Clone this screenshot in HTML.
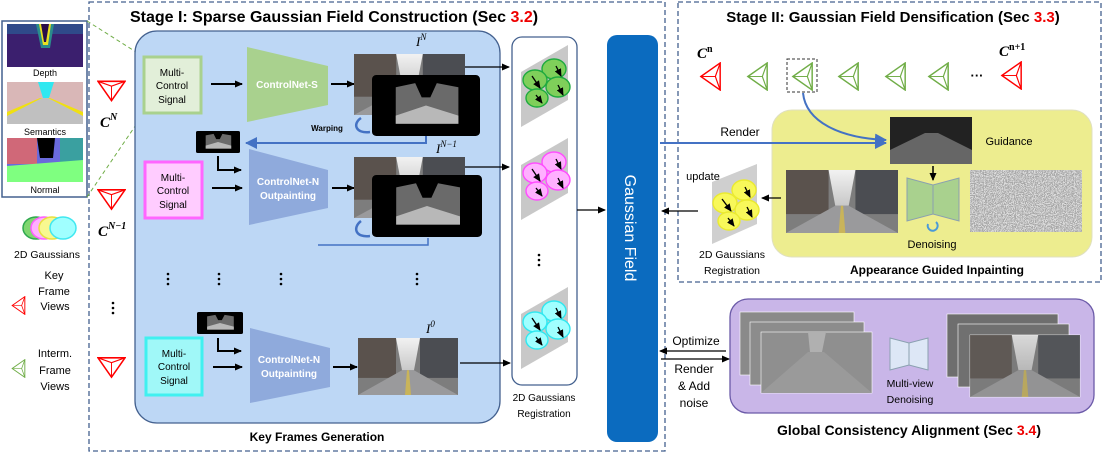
<!DOCTYPE html>
<html><head><meta charset="utf-8"><style>
html,body{margin:0;padding:0;background:#fff;}
svg{display:block;font-family:"Liberation Sans",sans-serif;}
.b{font-weight:bold;}
</style></head><body>
<svg width="1104" height="453" viewBox="0 0 1104 453" xmlns="http://www.w3.org/2000/svg">
<defs>
<marker id="ar" markerWidth="8" markerHeight="8" refX="7" refY="4" orient="auto" markerUnits="userSpaceOnUse"><path d="M0,0.5 L8,4 L0,7.5 Z" fill="#000"/></marker>
<marker id="arb" markerWidth="12" markerHeight="12" refX="11" refY="6" orient="auto" markerUnits="userSpaceOnUse"><path d="M0,0 L12,6 L0,12 Z" fill="#4472c4"/></marker>
<linearGradient id="sky" x1="0" y1="0" x2="0" y2="1"><stop offset="0" stop-color="#f2f2f2"/><stop offset="1" stop-color="#c8c8c8"/></linearGradient>
<symbol id="street" viewBox="0 0 100 60" preserveAspectRatio="none">
<rect width="100" height="60" fill="#7d7d7d"/>
<rect x="0" y="0" width="38" height="42" fill="#5a524d"/>
<rect x="62" y="0" width="38" height="42" fill="#4b4d52"/>
<polygon points="38,0 62,0 56,34 44,34" fill="url(#sky)"/>
<polygon points="0,60 44,34 56,34 100,60" fill="#9a9a9c"/>
<polygon points="49,34 51,34 53,60 47,60" fill="#c9b45a"/>
</symbol>
<symbol id="darkimg" viewBox="0 0 100 60" preserveAspectRatio="none">
<rect width="100" height="60" rx="4" fill="#000"/>
<polygon points="22,12 40,8 46,22 54,22 60,8 80,12 80,48 22,48" fill="#6a6a6a"/>
<polygon points="22,40 50,30 80,40 80,48 22,48" fill="#b8b8b8"/>
</symbol>
<filter id="noise" x="0" y="0" width="100%" height="100%"><feTurbulence type="fractalNoise" baseFrequency="0.9" numOctaves="2" seed="3"/><feColorMatrix type="matrix" values="0.33 0.33 0.33 0 0  0.33 0.33 0.33 0 0  0.33 0.33 0.33 0 0  0 0 0 0 1"/><feComponentTransfer><feFuncR type="discrete" tableValues="0.1 0.4 0.7 0.95"/><feFuncG type="discrete" tableValues="0.1 0.4 0.7 0.95"/><feFuncB type="discrete" tableValues="0.1 0.4 0.7 0.95"/></feComponentTransfer></filter>
<symbol id="cam" viewBox="0 0 24 30"><polygon points="22,1 2,15 22,29" fill="none" stroke="currentColor" stroke-width="1.5"/><polyline points="22,1 17,15 22,29" fill="none" stroke="currentColor" stroke-width="1.2"/><line x1="2" y1="15" x2="17" y2="15" stroke="currentColor" stroke-width="1"/></symbol>
<symbol id="camd" viewBox="0 0 30 24"><polygon points="1,2 29,2 15,22" fill="none" stroke="#f00" stroke-width="1.6"/><polyline points="1,2 15,7 29,2" fill="none" stroke="#f00" stroke-width="1.2"/><line x1="15" y1="7" x2="15" y2="22" stroke="#f00" stroke-width="1"/></symbol>
</defs>

<rect x="89" y="2" width="576" height="449" fill="none" stroke="#44618f" stroke-width="1.3" stroke-dasharray="5,3"/>
<rect x="678" y="2" width="423" height="280" fill="none" stroke="#44618f" stroke-width="1.3" stroke-dasharray="5,3"/>

<text x="334" y="22" text-anchor="middle" class="b" font-size="16">Stage I: Sparse Gaussian Field Construction (Sec <tspan fill="#e00">3.2</tspan>)</text>
<text x="893" y="22" text-anchor="middle" class="b" font-size="15">Stage II: Gaussian Field Densification  (Sec <tspan fill="#e00">3.3</tspan>)</text>

<rect x="2" y="21" width="85" height="176" fill="#fff" stroke="#44618f" stroke-width="1.5"/>
<rect x="7" y="24" width="76" height="43" fill="#3b1f6e"/>
<rect x="7" y="24" width="76" height="10" fill="#2f4a8a"/>
<polygon points="36,24 54,24 50,48 41,48" fill="#2a8c8c"/>
<polygon points="39,24 51,24 48,45 43,45" fill="#e8e020"/>
<polygon points="41,24 49,24 46,42 44,42" fill="#2a0d4a"/>
<text x="45" y="76" text-anchor="middle" font-size="9">Depth</text>
<rect x="7" y="82" width="76" height="42" fill="#d9b7b7"/>
<polygon points="7,112 40,98 50,98 83,112 83,124 7,124" fill="#f0e010"/>
<polygon points="7,116 42,98 48,98 83,116 83,124 7,124" fill="#c0c0c0"/>
<polygon points="38,82 54,82 49,98 43,98" fill="#30e8f0"/>
<text x="45" y="135" text-anchor="middle" font-size="9">Semantics</text>
<rect x="7" y="138" width="76" height="44" fill="#6a6adc"/>
<rect x="7" y="138" width="30" height="26" fill="#d06878"/>
<rect x="60" y="138" width="23" height="28" fill="#3aa0a0"/>
<polygon points="37,138 55,138 53,158 40,158" fill="#000"/>
<polygon points="7,166 83,160 83,182 7,182" fill="#7fff80"/>
<text x="45" y="193" text-anchor="middle" font-size="9">Normal</text>
<line x1="87" y1="21" x2="144" y2="57" stroke="#70ad47" stroke-width="1" stroke-dasharray="4,3"/>
<line x1="87" y1="197" x2="144" y2="113" stroke="#70ad47" stroke-width="1" stroke-dasharray="4,3"/>

<ellipse cx="36" cy="228" rx="13" ry="11" fill="#7fd66f" stroke="#2fa84f" stroke-width="1.5"/>
<ellipse cx="44" cy="228" rx="13" ry="11" fill="#ffb0ff" stroke="#ff5cff" stroke-width="1.5"/>
<ellipse cx="52" cy="228" rx="13" ry="11" fill="#f8f890" stroke="#e8e040" stroke-width="1.5"/>
<ellipse cx="63" cy="228" rx="13" ry="11" fill="#a0ffff" stroke="#40e8f0" stroke-width="1.5"/>
<text x="47" y="258" text-anchor="middle" font-size="10.5">2D Gaussians</text>
<text x="54" y="279" text-anchor="middle" font-size="11">Key</text>
<text x="54" y="295" text-anchor="middle" font-size="11">Frame</text>
<text x="55" y="310" text-anchor="middle" font-size="11">Views</text>
<use href="#cam" x="10" y="296" width="17" height="19" color="#f00"/>
<text x="55" y="357" text-anchor="middle" font-size="11">Interm.</text>
<text x="55" y="374" text-anchor="middle" font-size="11">Frame</text>
<text x="55" y="390" text-anchor="middle" font-size="11">Views</text>
<use href="#cam" x="10" y="359" width="17" height="19" color="#70ad47"/>

<use href="#camd" x="97" y="79" width="29" height="24"/>
<use href="#camd" x="97" y="187" width="29" height="25"/>
<use href="#camd" x="97" y="355" width="29" height="25"/>
<text x="100" y="127" font-family="Liberation Serif" font-style="italic" class="b" font-size="15">C<tspan font-size="10" dy="-7">N</tspan></text>
<text x="98" y="236" font-family="Liberation Serif" font-style="italic" class="b" font-size="15">C<tspan font-size="10" dy="-7">N−1</tspan></text>
<g fill="#000"><circle cx="113" cy="303" r="1.3"/><circle cx="113" cy="308" r="1.3"/><circle cx="113" cy="313" r="1.3"/></g>

<rect x="135" y="31" width="365" height="392" rx="22" fill="#bdd7f5" stroke="#44618f" stroke-width="1.3"/>
<text x="317" y="441" text-anchor="middle" class="b" font-size="12">Key Frames Generation</text>

<rect x="144" y="57" width="57" height="56" fill="#e2efd9" stroke="#a9d18e" stroke-width="3"/>
<text font-size="10" text-anchor="middle"><tspan x="172" y="76">Multi-</tspan><tspan x="172" y="89">Control</tspan><tspan x="172" y="103">Signal</tspan></text>
<line x1="211" y1="84" x2="242" y2="84" stroke="#000" stroke-width="2" marker-end="url(#ar)"/>
<polygon points="247,47 328,66 328,105 247,122" fill="#a9d18e"/>
<text x="287" y="88" text-anchor="middle" class="b" font-size="10" fill="#fff">ControlNet-S</text>
<line x1="331" y1="84" x2="354" y2="84" stroke="#000" stroke-width="2" marker-end="url(#ar)"/>
<use href="#street" x="354" y="54" width="111" height="61"/>
<use href="#darkimg" x="372" y="75" width="108" height="61"/>
<text x="416" y="46" font-family="Liberation Serif" font-style="italic" font-size="13">I<tspan font-size="9" dy="-6">N</tspan></text>
<text x="327" y="131" text-anchor="middle" class="b" font-size="8">Warping</text>
<path d="M361,118 C352,124 356,134 370,132" fill="none" stroke="#4472c4" stroke-width="2.5"/>
<polyline points="426,136 426,143 246,143" fill="none" stroke="#4472c4" stroke-width="2" marker-end="url(#arb)"/>
<use href="#darkimg" x="196" y="131" width="44" height="22"/>

<rect x="145" y="162" width="57" height="56" fill="#ffccff" stroke="#ff66ff" stroke-width="3"/>
<text font-size="10" text-anchor="middle"><tspan x="173" y="181">Multi-</tspan><tspan x="173" y="194">Control</tspan><tspan x="173" y="208">Signal</tspan></text>
<polyline points="218,156 218,170 241,170" fill="none" stroke="#000" stroke-width="2" marker-end="url(#ar)"/>
<line x1="212" y1="188" x2="242" y2="188" stroke="#000" stroke-width="2" marker-end="url(#ar)"/>
<polygon points="249,149 328,170 328,208 249,225" fill="#8faadc"/>
<text x="288" y="185" text-anchor="middle" class="b" font-size="10" fill="#fff">ControlNet-N</text>
<text x="288" y="199" text-anchor="middle" class="b" font-size="10" fill="#fff">Outpainting</text>
<line x1="332" y1="188" x2="354" y2="188" stroke="#000" stroke-width="2" marker-end="url(#ar)"/>
<use href="#street" x="354" y="157" width="111" height="61"/>
<use href="#darkimg" x="372" y="175" width="110" height="62"/>
<text x="436" y="153" font-family="Liberation Serif" font-style="italic" font-size="13">I<tspan font-size="9" dy="-6">N−1</tspan></text>
<path d="M361,221 C352,228 356,238 370,236" fill="none" stroke="#4472c4" stroke-width="2.5"/>
<polyline points="428,238 428,245 318,245" fill="none" stroke="#4472c4" stroke-width="1.5"/>

<g fill="#000">
<circle cx="168" cy="274" r="1.3"/><circle cx="168" cy="279" r="1.3"/><circle cx="168" cy="284" r="1.3"/>
<circle cx="219" cy="274" r="1.3"/><circle cx="219" cy="279" r="1.3"/><circle cx="219" cy="284" r="1.3"/>
<circle cx="281" cy="274" r="1.3"/><circle cx="281" cy="279" r="1.3"/><circle cx="281" cy="284" r="1.3"/>
<circle cx="417" cy="274" r="1.3"/><circle cx="417" cy="279" r="1.3"/><circle cx="417" cy="284" r="1.3"/>
</g>

<use href="#darkimg" x="197" y="312" width="46" height="22"/>
<rect x="146" y="338" width="56" height="57" fill="#a0f8f8" stroke="#40f0f0" stroke-width="3"/>
<text font-size="10" text-anchor="middle"><tspan x="174" y="357">Multi-</tspan><tspan x="174" y="370">Control</tspan><tspan x="174" y="384">Signal</tspan></text>
<polyline points="218,338 218,351 241,351" fill="none" stroke="#000" stroke-width="2" marker-end="url(#ar)"/>
<line x1="213" y1="367" x2="242" y2="367" stroke="#000" stroke-width="2" marker-end="url(#ar)"/>
<polygon points="250,328 330,348 330,387 250,403" fill="#8faadc"/>
<text x="289" y="363" text-anchor="middle" class="b" font-size="10" fill="#fff">ControlNet-N</text>
<text x="289" y="377" text-anchor="middle" class="b" font-size="10" fill="#fff">Outpainting</text>
<line x1="333" y1="367" x2="357" y2="367" stroke="#000" stroke-width="2" marker-end="url(#ar)"/>
<use href="#street" x="358" y="338" width="100" height="57"/>
<text x="426" y="333" font-family="Liberation Serif" font-style="italic" font-size="13">I<tspan font-size="9" dy="-6">0</tspan></text>

<line x1="465" y1="67" x2="509" y2="67" stroke="#000" stroke-width="1.2" marker-end="url(#ar)"/>
<line x1="465" y1="167" x2="509" y2="167" stroke="#000" stroke-width="1.2" marker-end="url(#ar)"/>
<line x1="460" y1="363" x2="510" y2="363" stroke="#000" stroke-width="1.2" marker-end="url(#ar)"/>

<rect x="512" y="37" width="65" height="348" rx="10" fill="#fff" stroke="#44618f" stroke-width="1.3"/>
<text x="544" y="401" text-anchor="middle" font-size="10">2D Gaussians</text>
<text x="544" y="417" text-anchor="middle" font-size="10">Registration</text>
<polygon points="521,72 568,45 568,100 521,127" fill="#c8c8c8"/>
<g fill="#7fcf5a" stroke="#1faa3f" stroke-width="1.4"><ellipse cx="554" cy="69" rx="12" ry="10"/><ellipse cx="535" cy="80" rx="12" ry="10"/><ellipse cx="558" cy="87" rx="12" ry="10"/><ellipse cx="537" cy="98" rx="11" ry="9"/></g>
<g stroke="#000" stroke-width="1.3" marker-end="url(#ar)"><line x1="532" y1="76" x2="540" y2="88"/><line x1="556" y1="66" x2="561" y2="76"/><line x1="558" y1="85" x2="563" y2="95"/><line x1="536" y1="95" x2="542" y2="103"/></g>
<polygon points="521,165 568,138 568,193 521,220" fill="#c8c8c8"/>
<g fill="#ffb0ff" stroke="#ff4cff" stroke-width="1.4"><ellipse cx="554" cy="162" rx="12" ry="10"/><ellipse cx="535" cy="173" rx="12" ry="10"/><ellipse cx="558" cy="180" rx="12" ry="10"/><ellipse cx="537" cy="191" rx="11" ry="9"/></g>
<g stroke="#000" stroke-width="1.3" marker-end="url(#ar)"><line x1="532" y1="169" x2="540" y2="181"/><line x1="556" y1="159" x2="561" y2="169"/><line x1="558" y1="178" x2="563" y2="188"/><line x1="536" y1="188" x2="542" y2="196"/></g>
<g fill="#000"><circle cx="539" cy="255" r="1.3"/><circle cx="539" cy="260" r="1.3"/><circle cx="539" cy="265" r="1.3"/></g>
<polygon points="521,314 568,287 568,342 521,369" fill="#c8c8c8"/>
<g fill="#a0ffff" stroke="#30e8f0" stroke-width="1.4"><ellipse cx="554" cy="311" rx="12" ry="10"/><ellipse cx="535" cy="322" rx="12" ry="10"/><ellipse cx="558" cy="329" rx="12" ry="10"/><ellipse cx="537" cy="340" rx="11" ry="9"/></g>
<g stroke="#000" stroke-width="1.3" marker-end="url(#ar)"><line x1="532" y1="318" x2="540" y2="330"/><line x1="556" y1="308" x2="561" y2="318"/><line x1="558" y1="327" x2="563" y2="337"/><line x1="536" y1="337" x2="542" y2="345"/></g>
<line x1="577" y1="210" x2="605" y2="210" stroke="#000" stroke-width="1.2" marker-end="url(#ar)"/>

<rect x="607" y="35" width="51" height="407" rx="10" fill="#0b6bbf"/>
<text transform="translate(625,228) rotate(90)" text-anchor="middle" font-size="16" fill="#fff">Gaussian Field</text>

<text x="697" y="58" font-family="Liberation Serif" font-style="italic" class="b" font-size="15">C<tspan font-size="10" dy="-6" font-style="normal">n</tspan></text>
<use href="#cam" x="698" y="62" width="25" height="29" color="#f00"/>
<use href="#cam" x="745" y="62" width="25" height="29" color="#70ad47"/>
<rect x="787" y="59" width="30" height="33" fill="none" stroke="#333" stroke-width="1" stroke-dasharray="3,2"/>
<use href="#cam" x="790" y="62" width="25" height="29" color="#70ad47"/>
<use href="#cam" x="836" y="62" width="25" height="29" color="#70ad47"/>
<use href="#cam" x="883" y="62" width="25" height="29" color="#70ad47"/>
<use href="#cam" x="926" y="62" width="25" height="29" color="#70ad47"/>
<text x="977" y="80" text-anchor="middle" class="b" font-size="13">···</text>
<use href="#cam" x="999" y="61" width="25" height="29" color="#f00"/>
<text x="999" y="56" font-family="Liberation Serif" font-style="italic" class="b" font-size="15">C<tspan font-size="10" dy="-6" font-style="normal">n+1</tspan></text>

<rect x="772" y="110" width="320" height="147" rx="20" fill="#eded8f" stroke="#e0e0c0" stroke-width="1"/>
<text x="937" y="274" text-anchor="middle" class="b" font-size="12">Appearance Guided Inpainting</text>
<line x1="660" y1="143" x2="886" y2="143" stroke="#4472c4" stroke-width="2" marker-end="url(#arb)"/>
<text x="740" y="136" text-anchor="middle" font-size="12">Render</text>
<path d="M803,93 C806,122 840,138 886,140" fill="none" stroke="#4472c4" stroke-width="2" marker-end="url(#arb)"/>
<rect x="890" y="117" width="82" height="47" fill="#222"/>
<polygon points="890,150 925,133 938,133 972,150 972,164 890,164" fill="#666"/>
<text x="1009" y="145" text-anchor="middle" font-size="11">Guidance</text>
<line x1="933" y1="166" x2="933" y2="180" stroke="#000" stroke-width="1.5" marker-end="url(#ar)"/>
<use href="#street" x="786" y="170" width="112" height="63"/>
<polygon points="907,178 933,185 959,178 959,221 933,214 907,221" fill="#a9d18e" stroke="#8aa0b0" stroke-width="1"/>
<line x1="933" y1="185" x2="933" y2="214" stroke="#8aa0b0" stroke-width="1"/>
<path d="M928,224 A5,5 0 1 0 936,222" fill="none" stroke="#4a9ad8" stroke-width="2"/>
<text x="932" y="248" text-anchor="middle" font-size="11">Denoising</text>
<rect x="970" y="170" width="112" height="62" fill="#888" filter="url(#noise)"/>
<polygon points="712,182 757,164 757,224 712,244" fill="#cfcfcf"/>
<g fill="#f8f85a" stroke="#eaea30" stroke-width="1.4"><ellipse cx="744" cy="190" rx="12" ry="10"/><ellipse cx="725" cy="203" rx="12" ry="10"/><ellipse cx="747" cy="210" rx="12" ry="10"/><ellipse cx="729" cy="221" rx="11" ry="9"/></g>
<g stroke="#000" stroke-width="1.3" marker-end="url(#ar)"><line x1="722" y1="199" x2="731" y2="211"/><line x1="745" y1="187" x2="750" y2="197"/><line x1="747" y1="207" x2="752" y2="217"/><line x1="728" y1="218" x2="734" y2="226"/></g>
<text x="703" y="180" text-anchor="middle" font-size="11">update</text>
<line x1="781" y1="198" x2="762" y2="198" stroke="#000" stroke-width="1.2" marker-end="url(#ar)"/>
<line x1="698" y1="211" x2="662" y2="211" stroke="#000" stroke-width="1.2" marker-end="url(#ar)"/>
<text x="732" y="258" text-anchor="middle" font-size="10.5">2D Gaussians</text>
<text x="732" y="274" text-anchor="middle" font-size="10.5">Registration</text>

<rect x="730" y="299" width="364" height="114" rx="18" fill="#c9b6e8" stroke="#6b5aa8" stroke-width="1.3"/>
<text x="909" y="435" text-anchor="middle" class="b" font-size="14">Global Consistency Alignment (Sec <tspan fill="#e00">3.4</tspan>)</text>
<line x1="726" y1="351" x2="660" y2="351" stroke="#000" stroke-width="1.2" marker-end="url(#ar)"/>
<line x1="661" y1="359" x2="729" y2="359" stroke="#000" stroke-width="1.2" marker-end="url(#ar)"/>
<text x="696" y="345" text-anchor="middle" font-size="12">Optimize</text>
<text x="694" y="373" text-anchor="middle" font-size="12">Render</text>
<text x="694" y="390" text-anchor="middle" font-size="12">&amp; Add</text>
<text x="694" y="407" text-anchor="middle" font-size="12">noise</text>
<g stroke="#fff" stroke-width="0.6">
<rect x="740" y="312" width="114" height="63" fill="#8a8a8a"/>
<rect x="750" y="322" width="114" height="63" fill="#8c8c8c"/>
<rect x="761" y="332" width="111" height="61" fill="#8f8f8f"/>
<rect x="947" y="314" width="111" height="63" fill="#6e6e6e"/>
<rect x="958" y="324" width="111" height="63" fill="#707070"/>
<rect x="970" y="335" width="110" height="62" fill="#777"/>
</g>
<use href="#street" x="970" y="335" width="110" height="62" opacity="0.8"/>
<polygon points="761,393 808,352 824,352 872,393" fill="#9a9a9a"/>
<polygon points="808,332 826,332 822,352 810,352" fill="#b0b0b0"/>
<polygon points="890,338 909,343 928,338 928,370 909,365 890,370" fill="#dde7f6" stroke="#8aa0b0" stroke-width="1"/>
<line x1="909" y1="343" x2="909" y2="365" stroke="#8aa0b0"/>
<text x="910" y="387" text-anchor="middle" font-size="10.5">Multi-view</text>
<text x="910" y="403" text-anchor="middle" font-size="10.5">Denoising</text>
</svg>
</body></html>
